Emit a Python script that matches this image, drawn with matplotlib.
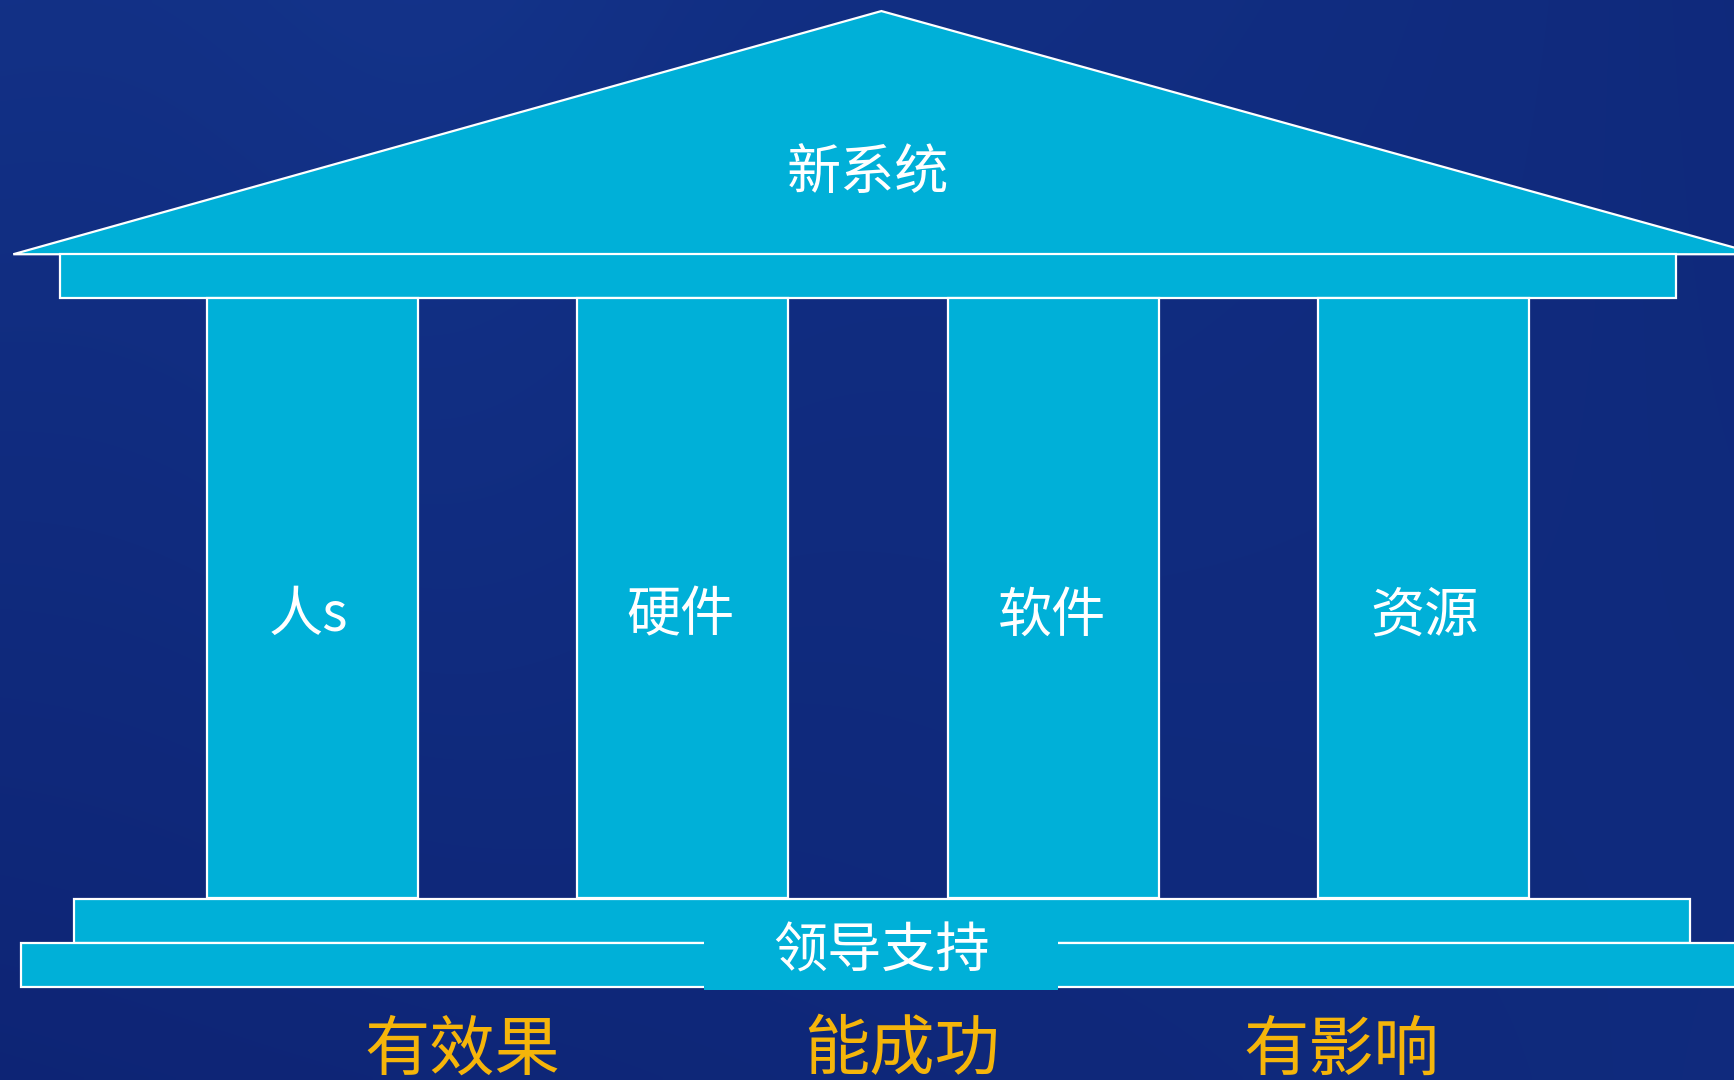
import matplotlib
matplotlib.use("Agg")
import matplotlib.pyplot as plt
import numpy as np
from matplotlib.patches import Polygon, Rectangle

plt.rcParams['font.family'] = ['Noto Sans CJK SC', 'DejaVu Sans']

# ---- content ----
roof_label = "新系统"
pillar_labels = ["人s", "硬件", "软件", "资源"]
base_label = "领导支持"
outcome_labels = ["有效果", "能成功", "有影响"]

# ---- styles ----
FILL = "#00B0D8"
EDGE = "white"
GOLD = "#F5B50A"
W, H = 1568, 977

fig = plt.figure(figsize=(17.34, 10.80), dpi=100)
ax = fig.add_axes([0, 0, 1, 1])
ax.set_xlim(0, W)
ax.set_ylim(H, 0)
ax.axis("off")

# background gradient (navy)
yy, xx = np.mgrid[0:1:200j, 0:1:320j]
c_light = np.array([0.10, 0.25, 0.60])
c_dark = np.array([0.05, 0.12, 0.42])
c_mid = np.array([0.06, 0.18, 0.52])
t = np.clip(0.6 * (1 - xx) * (1 - yy) + 0.4 * xx * (1 - yy) * (1 - np.abs(xx - 0.6))
            + 0.3 * yy * xx + 0.2 * (1 - yy) * np.exp(-((xx - 0.25) ** 2) / 0.02), 0, 1)
bg = c_dark[None, None, :] * (1 - t[..., None]) + c_light[None, None, :] * t[..., None]
bg = 0.6 * bg + 0.4 * c_mid
ax.imshow(bg, extent=[0, W, H, 0], aspect="auto", zorder=0, interpolation="bilinear")

lw = 1.6

# roof
roof = Polygon([[12, 230], [797, 10], [1590, 230]], closed=True, facecolor=FILL,
               edgecolor=EDGE, linewidth=lw, zorder=2)
ax.add_patch(roof)
# beam
ax.add_patch(Rectangle((54, 230), 1516 - 54, 40, facecolor=FILL, edgecolor=EDGE, linewidth=lw, zorder=3))
ax.text(785, 157, roof_label, color="white", fontsize=39, ha="center", va="center", zorder=5)

# pillars
pillar_w = 191
for i, lab in enumerate(pillar_labels):
    x0 = 187 + i * 335
    ax.add_patch(Rectangle((x0, 270), pillar_w, 542, facecolor=FILL, edgecolor=EDGE, linewidth=lw, zorder=3))
    ax.text(x0 + pillar_w / 2 - 4 + i * 1.5, 557, lab, color="white", fontsize=39,
            ha="center", va="center", zorder=5)

# base steps
ax.add_patch(Rectangle((67, 813), 1528 - 67, 40, facecolor=FILL, edgecolor=EDGE, linewidth=lw, zorder=3))
ax.add_patch(Rectangle((19, 853), 1600, 40, facecolor=FILL, edgecolor=EDGE, linewidth=lw, zorder=4))
ax.add_patch(Rectangle((637, 838), 957 - 637, 58, facecolor=FILL, edgecolor="none", zorder=4.5))
ax.text(797, 861, base_label, color="white", fontsize=39, ha="center", va="center", zorder=5)

# outcomes
for i, lab in enumerate(outcome_labels):
    ax.text(418 + i * 397.5, 951, lab, color=GOLD, fontsize=47, ha="center", va="center", zorder=5)

fig.savefig("out.png", dpi=100)
